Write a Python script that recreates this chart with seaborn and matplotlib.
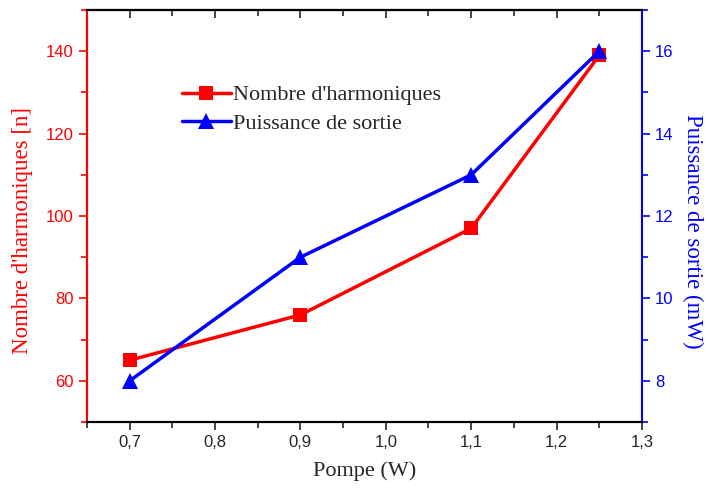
import numpy as np
import pandas as pd
import matplotlib
matplotlib.use('Agg')
import matplotlib.pyplot as plt
from matplotlib.ticker import MultipleLocator, FuncFormatter, NullFormatter
import seaborn as sns

sns.set_style('white')
plt.rcParams['font.family'] = ['Liberation Sans', 'DejaVu Sans']

# data
pompe = [0.7, 0.9, 1.1, 1.25]
harmoniques = [65, 76, 97, 139]
puissance = [8, 11, 13, 16]

df = pd.DataFrame({'pompe': pompe, 'harm': harmoniques, 'puis': puissance})

fig = plt.figure(figsize=(7.07, 4.91), dpi=100)
ax = fig.add_axes([0.123, 0.1405, 0.785, 0.8391])
ax2 = ax.twinx()

sns.lineplot(data=df, x='pompe', y='harm', ax=ax, color='#ff0000', lw=2.5,
             marker='s', markersize=10, markeredgewidth=0, label="Nombre d'harmoniques", legend=False)
sns.lineplot(data=df, x='pompe', y='puis', ax=ax2, color='#0000ff', lw=2.5,
             marker='^', markersize=11, markeredgewidth=0, label='Puissance de sortie', legend=False)

ax.set_xlim(0.65, 1.3)
ax.set_ylim(50, 150)
ax2.set_ylim(7, 17)

ax.xaxis.set_major_locator(MultipleLocator(0.1))
ax.xaxis.set_minor_locator(MultipleLocator(0.05))
ax.xaxis.set_major_formatter(FuncFormatter(lambda v, p: f'{v:.1f}'.replace('.', ',')))
ax.yaxis.set_major_locator(MultipleLocator(20))
ax.yaxis.set_minor_locator(MultipleLocator(10))
ax2.yaxis.set_major_locator(MultipleLocator(2))
ax2.yaxis.set_minor_locator(MultipleLocator(1))

# top axis: ticks pointing inward, no labels
top = ax.secondary_xaxis('top')
top.xaxis.set_major_locator(MultipleLocator(0.1))
top.xaxis.set_minor_locator(MultipleLocator(0.05))
top.xaxis.set_major_formatter(NullFormatter())
top.tick_params(which='both', direction='in', width=1.2)
top.tick_params(which='major', length=6)
top.tick_params(which='minor', length=4)
top.spines['top'].set_linewidth(1.5)

serif = ['Liberation Serif', 'DejaVu Serif']
ax.set_xlabel('Pompe (W)', fontsize=16, family=serif, labelpad=8)
ax.set_ylabel("Nombre d'harmoniques [n]", fontsize=16.5, family=serif, color='#ff0000')
ax2.set_ylabel('Puissance de sortie (mW)', fontsize=16.5, family=serif, color='#0000ff',
               rotation=270, va='center')
ax.yaxis.set_label_coords(-0.097, 0.464)
ax2.yaxis.set_label_coords(1.092, 0.464)

ax.tick_params(axis='x', which='both', direction='out', labelsize=12, top=False, bottom=True, width=1.2)
ax.tick_params(axis='x', which='major', length=6)
ax.tick_params(axis='x', which='minor', length=4)
ax.tick_params(axis='y', which='both', colors='#ff0000', labelsize=12, width=1.2)
ax.tick_params(axis='y', which='major', length=6)
ax.tick_params(axis='y', which='minor', length=4)
ax2.tick_params(axis='y', which='both', colors='#0000ff', labelsize=12, width=1.2)
ax2.tick_params(axis='y', which='major', length=6)
ax2.tick_params(axis='y', which='minor', length=4)

for a in (ax, ax2):
    for s in a.spines.values():
        s.set_linewidth(1.5)
        s.set_color('black')
ax2.spines['left'].set_color('#ff0000')
ax2.spines['right'].set_color('#0000ff')
ax.spines['left'].set_color('#ff0000')
ax.spines['right'].set_visible(False)

h1, l1 = ax.get_legend_handles_labels()
h2, l2 = ax2.get_legend_handles_labels()
ax.legend(h1 + h2, l1 + l2, loc='upper left', bbox_to_anchor=(0.155, 0.84), frameon=False,
          prop={'family': serif, 'size': 16}, handlelength=2.2, handletextpad=0.1, borderaxespad=0,
          labelspacing=0.35)

fig.savefig('out.png', dpi=100)
